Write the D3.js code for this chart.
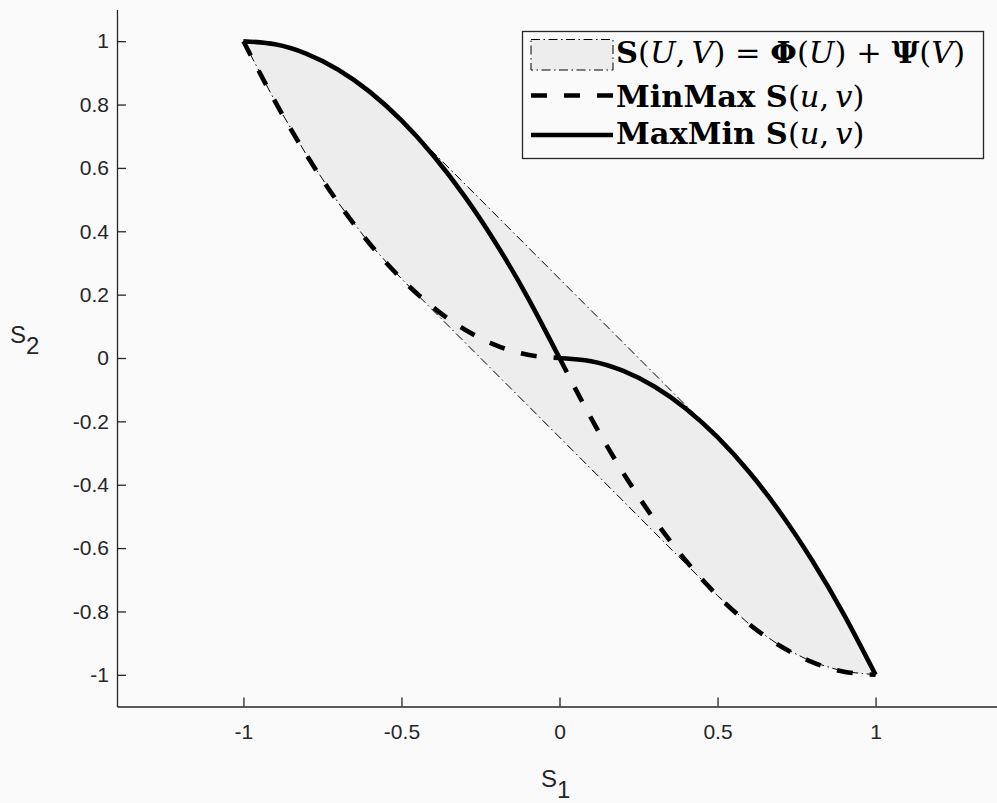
<!DOCTYPE html>
<html>
<head>
<meta charset="utf-8">
<script src="https://cdn.jsdelivr.net/npm/d3@7"></script>
<style>
  body { margin: 0; background: #fafafa; }
  svg { display: block; }
</style>
</head>
<body>
<svg id="chart"></svg>
<script>
// values
const s1Values = [-1, -0.9, -0.8, -0.7, -0.6, -0.5, -0.4, -0.3, -0.2, -0.1, 0,
                  0.1, 0.2, 0.3, 0.4, 0.5, 0.6, 0.7, 0.8, 0.9, 1]
const maxMinValues = [1, 0.99, 0.96, 0.91, 0.84, 0.75, 0.64, 0.51, 0.36, 0.19, 0,
                      -0.01, -0.04, -0.09, -0.16, -0.25, -0.36, -0.49, -0.64, -0.81, -1]
const minMaxValues = [1, 0.81, 0.64, 0.49, 0.36, 0.25, 0.16, 0.09, 0.04, 0.01, 0,
                      -0.19, -0.36, -0.51, -0.64, -0.75, -0.84, -0.91, -0.96, -0.99, -1]

const xTickValues = [-1, -0.5, 0, 0.5, 1]
const xTickLabels = ['-1', '-0.5', '0', '0.5', '1']
const yTickValues = [1, 0.8, 0.6, 0.4, 0.2, 0, -0.2, -0.4, -0.6, -0.8, -1]
const yTickLabels = ['1', '0.8', '0.6', '0.4', '0.2', '0', '-0.2', '-0.4', '-0.6', '-0.8', '-1']

// legend text pieces: [text, style]  b = bold, i = italic, '' = plain
const legendLabels = [
    [['S', 'b'], ['(', ''], ['U', 'i'], [',\u2009', ''], ['V', 'i'], [') = ', ''], ['\u03A6', 'b'],
     ['(', ''], ['U', 'i'], [') + ', ''], ['\u03A8', 'b'], ['(', ''], ['V', 'i'], [')', '']],
    [['MinMax S', 'b'], ['(', ''], ['u', 'i'], [',\u2009', ''], ['v', 'i'], [')', '']],
    [['MaxMin S', 'b'], ['(', ''], ['u', 'i'], [',\u2009', ''], ['v', 'i'], [')', '']]
]
const legendKinds = ['patch', 'dashed', 'solid']

class PhasePlot {

    constructor(_config) {
        this.config = {
            parentElement: _config.parentElement,
            containerWidth: _config.containerWidth || 997,
            containerHeight: _config.containerHeight || 803
        }
        this.initVis()
    }

    initVis() {
        let vis = this

        vis.svg = d3.select(vis.config.parentElement)
            .attr('width', vis.config.containerWidth)
            .attr('height', vis.config.containerHeight)

        vis.svg.append('rect')
            .attr('width', vis.config.containerWidth)
            .attr('height', vis.config.containerHeight)
            .attr('fill', '#fafafa')

        vis.xScale = d3.scaleLinear().domain([-1.4, 1.4]).range([117, 1002])
        vis.yScale = d3.scaleLinear().domain([-1.1, 1.1]).range([706.5, 9.5])

        vis.chart = vis.svg.append('g')

        vis.renderVis()
    }

    renderVis() {
        let vis = this
        const x = vis.xScale, y = vis.yScale

        const maxMin = s1Values.map((s, i) => [s, maxMinValues[i]])
        const minMax = s1Values.map((s, i) => [s, minMaxValues[i]])
        const hull = d3.polygonHull(maxMin.concat(minMax))

        const line = d3.line().x(d => x(d[0])).y(d => y(d[1]))
        const smooth = d3.line().x(d => x(d[0])).y(d => y(d[1])).curve(d3.curveNatural)
        // both curves have a corner at S1 = 0, so each half is smoothed on its own
        const halves = pts => smooth(pts.filter(d => d[0] <= 0)) + smooth(pts.filter(d => d[0] >= 0))

        // reachable set S(U,V)
        vis.chart.append('path')
            .attr('d', line(hull) + 'Z')
            .attr('fill', '#ededed')
            .attr('stroke', '#000')
            .attr('stroke-width', 1)
            .attr('stroke-dasharray', '9,3.5,1.5,3.5')

        vis.chart.append('path')
            .attr('d', halves(minMax))
            .attr('fill', 'none')
            .attr('stroke', '#000')
            .attr('stroke-width', 4.6)
            .attr('stroke-dasharray', '16,17')

        vis.chart.append('path')
            .attr('d', halves(maxMin))
            .attr('fill', 'none')
            .attr('stroke', '#000')
            .attr('stroke-width', 4.6)
            .attr('stroke-linejoin', 'round')

        // axes
        const xAxis = d3.axisBottom(x)
            .tickValues(xTickValues)
            .tickFormat((d, i) => xTickLabels[i])
            .tickSizeInner(-9).tickSizeOuter(0).tickPadding(24)
        const yAxis = d3.axisLeft(y)
            .tickValues(yTickValues)
            .tickFormat((d, i) => yTickLabels[i])
            .tickSizeInner(-9).tickSizeOuter(0).tickPadding(8)

        const xg = vis.chart.append('g')
            .attr('transform', `translate(0, ${y(-1.1)})`)
            .call(xAxis)
        const yg = vis.chart.append('g')
            .attr('transform', `translate(${x(-1.4)}, 0)`)
            .call(yAxis)

        for (const g of [xg, yg]) {
            g.select('.domain').attr('stroke', '#262626').attr('stroke-width', 1.3)
            g.selectAll('.tick line').attr('stroke', '#262626').attr('stroke-width', 1.3)
            g.selectAll('.tick text')
                .attr('fill', '#262626')
                .style('font-family', '"Liberation Sans", Arial, sans-serif')
                .style('font-size', '21px')
        }
        xg.selectAll('.tick text').attr('dy', '0.71em').attr('y', 18)

        // axis labels
        const axLabel = (px, py, main, sub) => {
            const t = vis.svg.append('text')
                .attr('x', px).attr('y', py)
                .attr('fill', '#262626')
                .style('font-family', '"Liberation Sans", Arial, sans-serif')
                .style('font-size', '24px')
            t.append('tspan').text(main)
            t.append('tspan').attr('dy', 11).text(sub)
        }
        axLabel(541, 787, 'S', '1')
        axLabel(10, 343, 'S', '2')

        // legend
        const lg = vis.svg.append('g')
        lg.append('rect')
            .attr('x', 522.5).attr('y', 31.5)
            .attr('width', 461).attr('height', 127)
            .attr('fill', '#fafafa')
            .attr('stroke', '#262626')
            .attr('stroke-width', 1.3)

        const rowText = [63, 107, 144]
        const rowMid = [55, 95.5, 135]
        legendKinds.forEach((kind, i) => {
            if (kind === 'patch') {
                lg.append('rect')
                    .attr('x', 531).attr('y', 39.5).attr('width', 82).attr('height', 30.5)
                    .attr('fill', '#ededed').attr('stroke', '#000').attr('stroke-width', 1)
                    .attr('stroke-dasharray', '9,3.5,1.5,3.5')
            } else {
                lg.append('line')
                    .attr('x1', 531).attr('x2', 613)
                    .attr('y1', rowMid[i]).attr('y2', rowMid[i])
                    .attr('stroke', '#000').attr('stroke-width', 4.6)
                    .attr('stroke-dasharray', kind === 'dashed' ? '16,17' : null)
            }
            const t = lg.append('text')
                .attr('x', 616).attr('y', rowText[i])
                .attr('fill', '#000')
                .style('font-family', '"DejaVu Serif", serif')
                .style('font-size', '30.5px')
                .attr('xml:space', 'preserve')
            legendLabels[i].forEach(p => {
                t.append('tspan')
                    .attr('font-weight', p[1] === 'b' ? 'bold' : 'normal')
                    .attr('font-style', p[1] === 'i' ? 'italic' : 'normal')
                    .text(p[0])
            })
        })
    }
}

new PhasePlot({ parentElement: '#chart' })
</script>
</body>
</html>
